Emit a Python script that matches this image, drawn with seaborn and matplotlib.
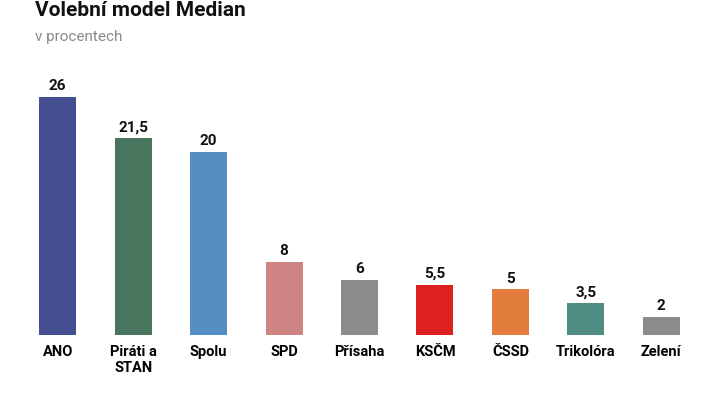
import matplotlib
matplotlib.use("Agg")
import matplotlib.pyplot as plt
import seaborn as sns
import pandas as pd

parties = ["ANO", "Piráti a\nSTAN", "Spolu", "SPD", "Přísaha", "KSČM", "ČSSD", "Trikolóra", "Zelení"]
values = [26, 21.5, 20, 8, 6, 5.5, 5, 3.5, 2]
labels = ["26", "21,5", "20", "8", "6", "5,5", "5", "3,5", "2"]
colors = ["#38439b", "#3f7d5c", "#418fd6", "#db7878", "#8c8c8c", "#ff0000", "#ff7722", "#47968a", "#8c8c8c"]

plt.rcParams["font.family"] = "Roboto"
fig = plt.figure(figsize=(7.2, 4.05), dpi=100)
ax = fig.add_axes([20/720, 70/405, 679/720, 260/405])
df = pd.DataFrame({"party": parties, "value": values})
sns.barplot(data=df, x="party", y="value", hue="party", palette=colors, legend=False, width=0.49, ax=ax)
ax.set_xlim(-0.5, 8.5)
ax.set_ylim(0, 26 * 260 / 238)
for i, (v, l) in enumerate(zip(values, labels)):
    ax.text(i, v + 0.4, l, ha="center", va="bottom", fontsize=11, fontweight="bold", color="#111")
for s in ax.spines.values():
    s.set_visible(False)
ax.set_yticks([])
ax.set_xlabel("")
ax.set_ylabel("")
ax.tick_params(axis="x", length=0, pad=7, labelsize=10.5)
for t in ax.get_xticklabels():
    t.set_fontweight("bold")
    t.set_verticalalignment("top")
fig.text(35/720, 1 - 10/405, "Volební model Median", fontsize=15, fontweight="bold", va="center", color="#111")
fig.text(35/720, 1 - 37/405, "v procentech", fontsize=11, va="center", color="#8a8a8a")
fig.savefig("out.png", dpi=100)
